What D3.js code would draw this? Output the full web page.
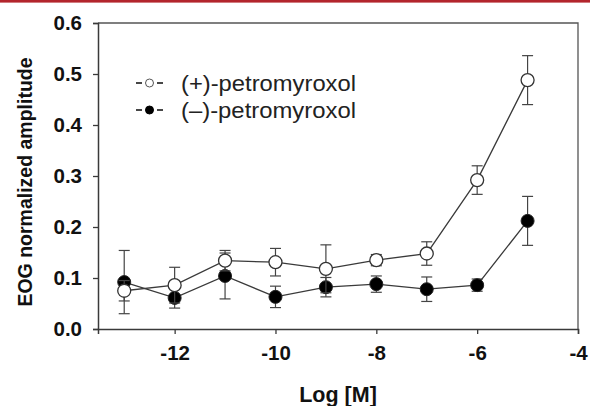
<!DOCTYPE html>
<html>
<head>
<meta charset="utf-8">
<script src="https://cdn.jsdelivr.net/npm/d3@7"></script>
<style>
  html, body { margin: 0; padding: 0; background: #fff; }
  svg { display: block; }
</style>
</head>
<body>
<svg id="chart" width="590" height="406"></svg>
<script>
// ---- data ----
const logConc   = [-13, -12, -11, -10, -9, -8, -7, -6, -5];
const plusMean  = [0.075, 0.086, 0.134, 0.131, 0.118, 0.135, 0.148, 0.292, 0.488];
const plusErr   = [0.020, 0.035, 0.020, 0.027, 0.047, 0.011, 0.023, 0.028, 0.048];
const minusMean = [0.092, 0.061, 0.104, 0.063, 0.082, 0.088, 0.078, 0.086, 0.212];
const minusErr  = [0.062, 0.020, 0.045, 0.021, 0.019, 0.016, 0.024, 0.012, 0.048];
const xTicks = [-12, -10, -8, -6, -4];
const yTicks = [0.0, 0.1, 0.2, 0.3, 0.4, 0.5, 0.6];
const seriesNames = ["(+)-petromyroxol", "(\u2013)-petromyroxol"];
const xTitle = "Log [M]";
const yTitle = "EOG normalized amplitude";

const svg = d3.select("#chart");
const W = 590, H = 406;
const m = {left: 98, right: 12, top: 23, bottom: 77};
const iw = W - m.left - m.right, ih = H - m.top - m.bottom;

// red bar at top
svg.append("rect").attr("x", 0).attr("y", 0).attr("width", W).attr("height", 2.6).attr("fill", "#b3252c");

const x = d3.scaleLinear().domain([-13.52, -4]).range([m.left, m.left + iw]);
const y = d3.scaleLinear().domain([0, 0.6]).range([m.top + ih, m.top]);

const axisColor = "#3a3a3a";
const font = "Liberation Sans, Arial, Helvetica, sans-serif";

// box (top and right)
svg.append("path")
  .attr("d", `M${m.left},${m.top}H${m.left + iw}V${m.top + ih}`)
  .attr("fill", "none").attr("stroke", "#555").attr("stroke-width", 1.3);

// axes
const xAxis = svg.append("g").attr("transform", `translate(0,${m.top + ih})`)
  .call(d3.axisBottom(x).tickValues(xTicks).tickSize(5).tickPadding(11).tickFormat(d3.format("d")));
const yAxis = svg.append("g").attr("transform", `translate(${m.left},0)`)
  .call(d3.axisLeft(y).tickValues(yTicks).tickSize(5).tickPadding(11).tickFormat(d3.format(".1f")));
[xAxis, yAxis].forEach(g => {
  g.select(".domain").attr("stroke", axisColor).attr("stroke-width", 1.5);
  g.selectAll(".tick line").attr("stroke", axisColor).attr("stroke-width", 1.3);
  g.selectAll(".tick text").attr("fill", "#111").style("font-family", font)
    .style("font-size", "20.5px").style("font-weight", "bold");
});
xAxis.selectAll(".tick text").text(d => d < 0 ? "-" + Math.abs(d) : d);

// axis titles
svg.append("text").attr("x", m.left + iw / 2).attr("y", 402).attr("text-anchor", "middle")
  .style("font-family", font).style("font-size", "21.5px").style("font-weight", "bold").attr("fill", "#111")
  .text(xTitle);
svg.append("text").attr("transform", `translate(32,182) rotate(-90)`).attr("text-anchor", "middle")
  .style("font-family", font).style("font-size", "19.5px").style("font-weight", "bold").attr("fill", "#111")
  .text(yTitle);

// series
const plus = logConc.map((c, i) => ({c, v: plusMean[i], e: plusErr[i]}));
const minus = logConc.map((c, i) => ({c, v: minusMean[i], e: minusErr[i]}));
const line = d3.line().x(d => x(d.c)).y(d => y(d.v));
const lineColor = "#3a3a3a";
const R = 6.5, capW = 5.5;

function drawSeries(data) {
  const g = svg.append("g");
  g.append("path").datum(data).attr("d", line).attr("fill", "none")
    .attr("stroke", lineColor).attr("stroke-width", 1.3);
  const eb = g.selectAll(".eb").data(data).enter().append("g");
  eb.append("line").attr("x1", d => x(d.c)).attr("x2", d => x(d.c))
    .attr("y1", d => y(d.v - d.e)).attr("y2", d => y(d.v + d.e))
    .attr("stroke", "#444").attr("stroke-width", 1.2);
  eb.append("line").attr("x1", d => x(d.c) - capW).attr("x2", d => x(d.c) + capW)
    .attr("y1", d => y(d.v + d.e)).attr("y2", d => y(d.v + d.e))
    .attr("stroke", "#444").attr("stroke-width", 1.2);
  eb.append("line").attr("x1", d => x(d.c) - capW).attr("x2", d => x(d.c) + capW)
    .attr("y1", d => y(d.v - d.e)).attr("y2", d => y(d.v - d.e))
    .attr("stroke", "#444").attr("stroke-width", 1.2);
  return g;
}
const gMinus = drawSeries(minus);
const gPlus = drawSeries(plus);
gMinus.selectAll(".pt").data(minus).enter().append("circle")
  .attr("cx", d => x(d.c)).attr("cy", d => y(d.v)).attr("r", R)
  .attr("fill", "#000").attr("stroke", "#222").attr("stroke-width", 1);
gPlus.selectAll(".pt").data(plus).enter().append("circle")
  .attr("cx", d => x(d.c)).attr("cy", d => y(d.v)).attr("r", R)
  .attr("fill", "#fff").attr("stroke", "#333").attr("stroke-width", 1.3);

// legend
const legY = [83, 110];
seriesNames.forEach((name, i) => {
  const g = svg.append("g").attr("transform", `translate(0,${legY[i]})`);
  g.append("line").attr("x1", 136).attr("x2", 142).attr("y1", 0).attr("y2", 0).attr("stroke", "#333").attr("stroke-width", 1.8);
  g.append("line").attr("x1", 157).attr("x2", 163).attr("y1", 0).attr("y2", 0).attr("stroke", "#333").attr("stroke-width", 1.8);
  g.append("circle").attr("cx", 149.5).attr("cy", 0).attr("r", 4)
    .attr("fill", i === 0 ? "#fff" : "#000").attr("stroke", i === 0 ? "#555" : "#000").attr("stroke-width", 1);
  g.append("text").attr("x", 181).attr("y", 0).attr("dy", "0.35em")
    .style("font-family", font).style("font-size", "22px").attr("fill", "#222")
    .attr("textLength", 175).attr("lengthAdjust", "spacingAndGlyphs")
    .text(name);
});
</script>
</body>
</html>
